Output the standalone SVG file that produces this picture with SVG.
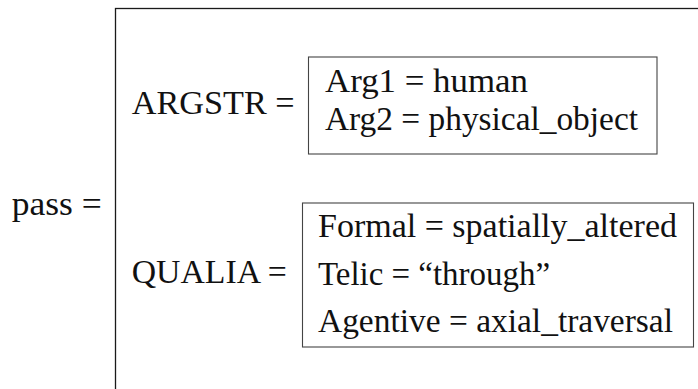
<svg xmlns="http://www.w3.org/2000/svg" width="698" height="389" viewBox="0 0 698 389">
<style>
.t{font-family:"Liberation Serif","DejaVu Serif",serif;font-size:34px;fill:#111}
.outer{fill:none;stroke:#1a1a1a;stroke-width:1.3}
.inner{fill:none;stroke:#444;stroke-width:1.1}
</style>
<rect width="698" height="389" fill="#fff"/>
<g id="pass">
<text class="t" x="11.7" y="215" textLength="90" lengthAdjust="spacingAndGlyphs">pass =</text>
<rect class="outer" x="115.5" y="8.5" width="640" height="420"/>
</g>
<g id="argstr">
<text class="t" x="131.7" y="114" textLength="163" lengthAdjust="spacingAndGlyphs">ARGSTR =</text>
<rect class="inner" x="308.5" y="57" width="348.5" height="97"/>
<text class="t" x="325" y="92" textLength="203" lengthAdjust="spacingAndGlyphs">Arg1 = human</text>
<text class="t" x="325" y="130" textLength="313" lengthAdjust="spacingAndGlyphs">Arg2 = physical_object</text>
</g>
<g id="qualia">
<text class="t" x="131.7" y="283" textLength="155" lengthAdjust="spacingAndGlyphs">QUALIA =</text>
<rect class="inner" x="302.5" y="203" width="391" height="144"/>
<text class="t" x="318" y="236.5" textLength="359" lengthAdjust="spacingAndGlyphs">Formal = spatially_altered</text>
<text class="t" x="318" y="284.5" textLength="232" lengthAdjust="spacingAndGlyphs">Telic = “through”</text>
<text class="t" x="318" y="332" textLength="355" lengthAdjust="spacingAndGlyphs">Agentive = axial_traversal</text>
</g>
<g id="connectors"/>
</svg>
